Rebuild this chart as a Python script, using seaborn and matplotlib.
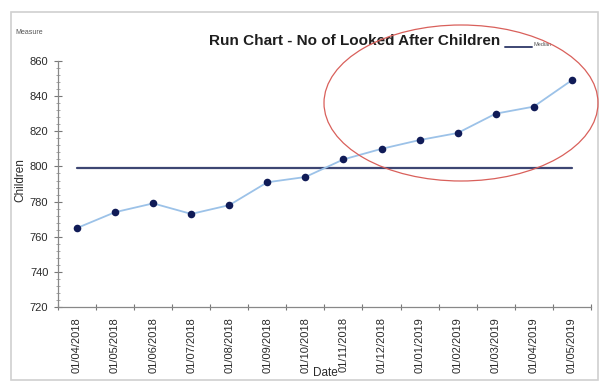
import matplotlib.pyplot as plt
import numpy as np
import pandas as pd
import seaborn as sns
from matplotlib.patches import Ellipse, Rectangle
from matplotlib.ticker import MultipleLocator

dates = ["01/04/2018", "01/05/2018", "01/06/2018", "01/07/2018", "01/08/2018",
         "01/09/2018", "01/10/2018", "01/11/2018", "01/12/2018", "01/01/2019",
         "01/02/2019", "01/03/2019", "01/04/2019", "01/05/2019"]
children = [765, 774, 779, 773, 778, 791, 794, 804, 810, 815, 819, 830, 834, 849]
median_value = 799
y_ticks = [720, 740, 760, 780, 800, 820, 840, 860]

df = pd.DataFrame({"idx": np.arange(len(dates)), "date": dates, "children": children})
df["median"] = median_value

sns.set_theme(style="white")
plt.rcParams["font.family"] = ["Liberation Sans", "DejaVu Sans"]

fig = plt.figure(figsize=(6, 3.83), dpi=100)
ax = fig.add_axes([0.0967, 0.198, 0.888, 0.643])

sns.lineplot(data=df, x="idx", y="median", ax=ax, color="#3d4673", linewidth=1.6)
sns.lineplot(data=df, x="idx", y="children", ax=ax, color="#9cc2e8", linewidth=1.3)
sns.scatterplot(data=df, x="idx", y="children", ax=ax, color="#101b57", s=30,
                linewidth=0, zorder=5)

ax.set_xlim(-0.5, len(dates) - 0.5)
ax.set_ylim(720, 860)
ax.set_yticks(y_ticks)
ax.yaxis.set_minor_locator(MultipleLocator(4))
ax.set_xticks(df["idx"])
ax.set_xticklabels(dates, rotation=90, fontsize=8, color="#2a2a2a")
ax.set_xticks(np.arange(-0.5, len(dates)), minor=True)
ax.tick_params(axis="x", which="major", length=0, pad=7)
ax.tick_params(axis="x", which="minor", length=4, direction="inout", color="#777777", width=0.8)
ax.tick_params(axis="y", which="major", length=6, direction="inout", color="#777777",
               labelsize=8, labelcolor="#2a2a2a", width=0.8, pad=4)
ax.tick_params(axis="y", which="minor", length=3, direction="inout", color="#999999", width=0.6)
ax.tick_params(axis="y", left=True, which="both")
ax.tick_params(axis="x", bottom=True, which="both")

for side in ["top", "right"]:
    ax.spines[side].set_visible(False)
for side in ["left", "bottom"]:
    ax.spines[side].set_color("#888888")
    ax.spines[side].set_linewidth(0.9)

ax.set_xlabel("")
ax.set_ylabel("")
fig.text(325 / 600, 1 - 373 / 383, "Date", fontsize=8.5, ha="center", va="center", color="#2a2a2a")
fig.text(20 / 600, 1 - 180 / 383, "Children", fontsize=8.5, rotation=90, ha="center",
         va="center", color="#2a2a2a")
fig.text(15 / 600, 1 - 32 / 383, "Measure", fontsize=5, ha="left", va="center", color="#555555")
fig.text(355 / 600, 1 - 41 / 383, "Run Chart - No of Looked After Children", fontsize=11,
         fontweight="bold", ha="center", va="center", color="#1e1e1e")
fig.add_artist(plt.Line2D([505 / 600, 532 / 600], [1 - 47 / 383, 1 - 47 / 383],
                          color="#3d4673", linewidth=1.4, transform=fig.transFigure))
fig.text(533 / 600, 1 - 44 / 383, "Median", fontsize=4, ha="left", va="center", color="#555555")

# red highlight ellipse drawn over the chart
fig.add_artist(Ellipse((461 / 600, 1 - 103 / 383), 274 / 600, 156 / 383,
                       transform=fig.transFigure, fill=False, edgecolor="#d9605b",
                       linewidth=0.9, zorder=10))
fig.add_artist(Rectangle((11 / 600, 1 - 380 / 383), 587 / 600, 368 / 383,
                         transform=fig.transFigure, fill=False, edgecolor="#d0d0d0",
                         linewidth=1.2))

fig.savefig("out.png", dpi=100)
